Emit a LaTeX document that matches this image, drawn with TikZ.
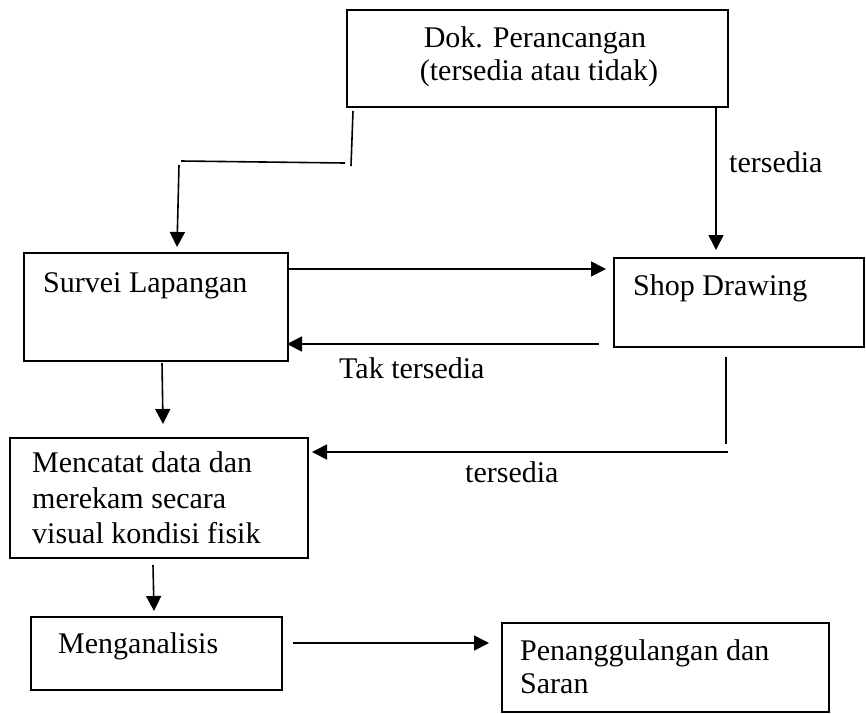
\documentclass[tikz,border=0pt]{standalone}
\usepackage{fontspec}
\setmainfont{Liberation Serif}
\usetikzlibrary{arrows.meta}
\tikzset{
  box/.style={draw, line width=1.6pt, rectangle, anchor=north west, inner sep=0pt},
  txt/.style={anchor=base west, inner sep=0pt, font=\fontsize{30}{35.5}\selectfont},
  conn/.style={line width=1.6pt},
  arr/.style={line width=1.6pt, -{Triangle[length=15pt,width=15pt]}}
}
\begin{document}
\begin{tikzpicture}[x=1pt,y=-1pt]
\useasboundingbox (0,0) rectangle (866,713);
% boxes
\node[box, minimum width=381pt, minimum height=97pt] (dok) at (346,9) {};
\node[box, minimum width=264pt, minimum height=108pt] (survei) at (23,252) {};
\node[box, minimum width=250pt, minimum height=89pt] (shop) at (613,257) {};
\node[box, minimum width=298pt, minimum height=120pt] (catat) at (9,437) {};
\node[box, minimum width=251pt, minimum height=73pt] (analisis) at (30,616) {};
\node[box, minimum width=327pt, minimum height=89pt] (tanggul) at (501,622) {};
% texts
\node[txt, anchor=base] (dokt1) at (535,47) {Dok. Perancangan};
\node[txt, anchor=base] (dokt2) at (539,80) {(tersedia atau tidak)};
\node[txt] (surveit) at (43,292) {Survei Lapangan};
\node[txt] (shopt) at (633,295) {Shop Drawing};
\node[txt] (catat1) at (32,472) {Mencatat data dan};
\node[txt] (catat2) at (32,508) {merekam secara};
\node[txt] (catat3) at (32,543) {visual kondisi fisik};
\node[txt] (analisist) at (58,653) {Menganalisis};
\node[txt] (tanggul1) at (520,660) {Penanggulangan dan};
\node[txt] (tanggul2) at (520,693) {Saran};
% labels
\node[txt] (lbl1) at (729,172) {tersedia};
\node[txt] (lbl2) at (339,378) {Tak tersedia};
\node[txt] (lbl3) at (465,482) {tersedia};
% connector coordinates
\coordinate (a1) at (353,111);
\coordinate (a2) at (351,166);
\coordinate (a3) at (345,163);
\coordinate (a4) at (181,161);
\coordinate (a5) at (179,165);
\coordinate (a6) at (177,247);
\coordinate (b1) at (716,106);
\coordinate (b2) at (716,250);
\coordinate (c1) at (289,269);
\coordinate (c2) at (606,269);
\coordinate (d1) at (599,344);
\coordinate (d2) at (287,344);
\coordinate (e1) at (726,357);
\coordinate (e2) at (726,444);
\coordinate (e3) at (728,452);
\coordinate (e4) at (312,452);
\coordinate (f1) at (162,363);
\coordinate (f2) at (163,424);
\coordinate (g1) at (153,565);
\coordinate (g2) at (154,611);
\coordinate (h1) at (293,643);
\coordinate (h2) at (489,643);
% connectors
\draw[conn] (a1) -- (a2);
\draw[conn] (a3) -- (a4);
\draw[arr] (a5) -- (a6);
\draw[arr] (b1) -- (b2);
\draw[arr] (c1) -- (c2);
\draw[arr] (d1) -- (d2);
\draw[conn] (e1) -- (e2);
\draw[arr] (e3) -- (e4);
\draw[arr] (f1) -- (f2);
\draw[arr] (g1) -- (g2);
\draw[arr] (h1) -- (h2);
\end{tikzpicture}
\end{document}
